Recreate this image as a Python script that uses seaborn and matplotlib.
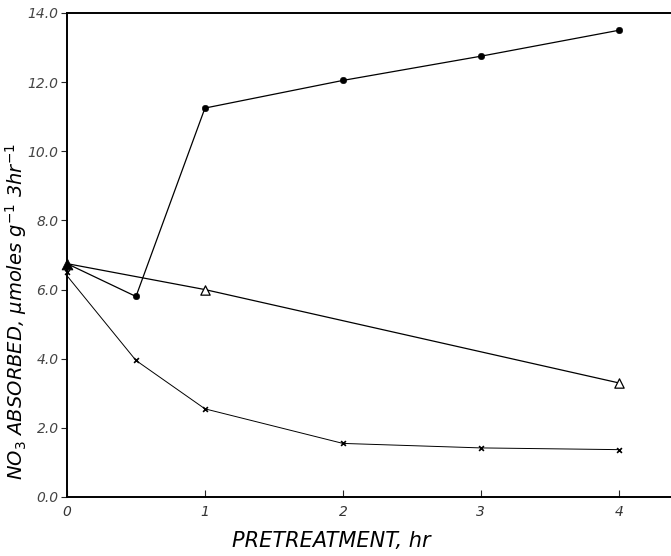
import numpy as np
import pandas as pd
import matplotlib
matplotlib.use('Agg')
import matplotlib.pyplot as plt
import seaborn as sns

# ── Données
heures_cercle = [0, 0.5, 1, 2, 3, 4]
no3_cercle = [6.75, 5.8, 11.25, 12.05, 12.75, 13.5]

heures_triangle = [0, 1, 4]
no3_triangle = [6.75, 6.0, 3.3]

heures_croix = [0, 0.5, 1, 2, 3, 4]
no3_croix = [6.4, 3.95, 2.55, 1.55, 1.42, 1.37]

yticks = [0.0, 2.0, 4.0, 6.0, 8.0, 10.0, 12.0, 14.0]
xticks = [0, 1, 2, 3, 4]

sns.set_style('ticks')
plt.rcParams['font.family'] = ['DejaVu Sans']

fig = plt.figure(figsize=(6.71, 5.56), dpi=100)
ax = fig.add_axes([67 / 671, 59 / 556, 607 / 671, 484 / 556])

df_c = pd.DataFrame({'h': heures_cercle, 'v': no3_cercle})
df_t = pd.DataFrame({'h': heures_triangle, 'v': no3_triangle})
df_x = pd.DataFrame({'h': heures_croix, 'v': no3_croix})

sns.lineplot(data=df_c, x='h', y='v', ax=ax, color='black', lw=0.9)
sns.scatterplot(data=df_c.iloc[1:], x='h', y='v', ax=ax, color='black',
                marker='o', s=22, edgecolor='black', zorder=5)

sns.lineplot(data=df_t, x='h', y='v', ax=ax, color='black', lw=0.9)
sns.scatterplot(data=df_t.iloc[1:], x='h', y='v', ax=ax, marker='^', s=45,
                facecolor='white', edgecolor='black', linewidth=0.9, zorder=5)
sns.scatterplot(data=df_t.iloc[:1], x='h', y='v', ax=ax, marker='^', s=60,
                color='black', edgecolor='black', zorder=6, clip_on=False)

sns.lineplot(data=df_x, x='h', y='v', ax=ax, color='black', lw=0.7)
sns.scatterplot(x=[heures_croix[0]], y=[6.5], ax=ax, marker='x', s=12,
                color='black', linewidth=1.2, zorder=5, clip_on=False)
sns.scatterplot(data=df_x.iloc[1:], x='h', y='v', ax=ax, marker='x', s=12,
                color='black', linewidth=1.2, zorder=5)

ax.set_xlim(0, 4.4)
ax.set_ylim(0, 14)
ax.set_xticks(xticks)
ax.set_yticks(yticks)
ax.set_xticklabels([str(t) for t in xticks], fontstyle='italic', color='#333333', fontsize=10)
ax.set_yticklabels([f'{t:.1f}' for t in yticks], fontstyle='italic', color='#444444', fontsize=10)

ax.tick_params(axis='x', direction='in', length=5, width=0.8, pad=6)
ax.tick_params(axis='y', direction='out', length=4, width=0.8, pad=2,
               right=True, labelright=False)
for sp in ax.spines.values():
    sp.set_linewidth(1.4)
    sp.set_color('black')

ax.set_xlabel('PRETREATMENT, hr', fontsize=15, fontstyle='italic', color='black')
ax.xaxis.set_label_coords(0.435, -0.07)
ax.set_ylabel(r'NO$_3$ ABSORBED, $\mu$moles g$^{-1}$ 3hr$^{-1}$',
              fontsize=14, fontstyle='italic', color='black')
ax.yaxis.set_label_coords(-0.062, 0.384)

plt.savefig('out.png', dpi=100)
plt.close()
